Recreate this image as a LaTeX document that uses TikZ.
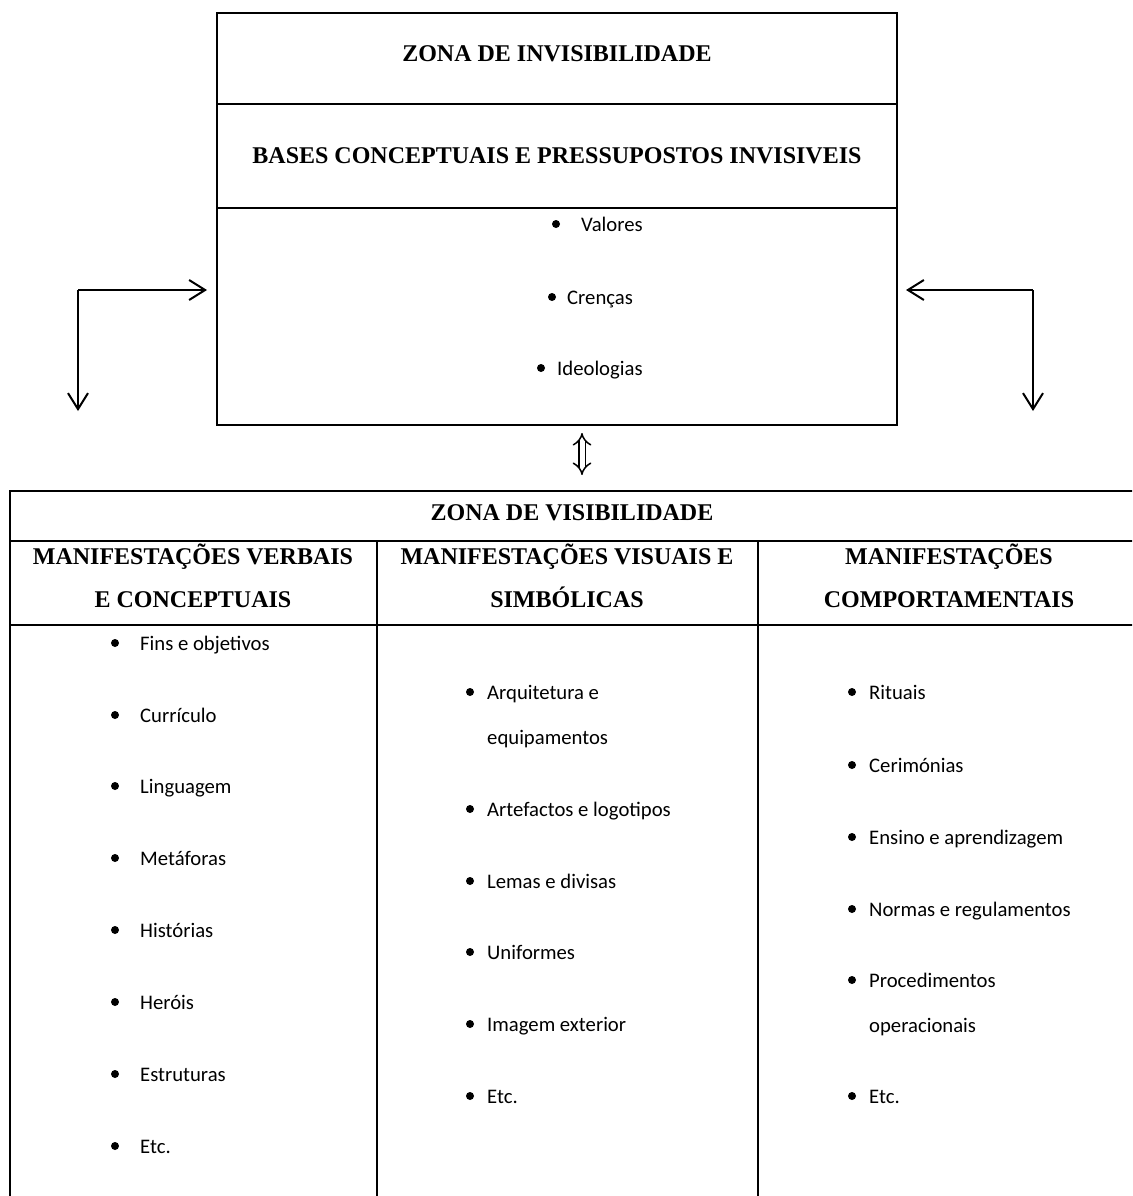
\documentclass[tikz,border=0pt]{standalone}
\usepackage{fontspec}
\setmainfont{Liberation Serif}
\newfontfamily\bodyfont{Carlito}
\usetikzlibrary{arrows.meta}
\begin{document}
\begin{tikzpicture}[x=1pt,y=-1pt,
 hd/.style={font=\fontsize{24}{28}\selectfont\bfseries, inner sep=0pt, anchor=base},
 itm/.style={font=\bodyfont\fontsize{20.7}{24}\selectfont, inner sep=0pt, anchor=base west, yshift=-7pt},
 bul/.style={circle, fill=black, draw=none, inner sep=0pt, minimum size=8pt},
 frame/.style={draw, line width=2pt, inner sep=0pt},
 ln/.style={line width=2pt},
 arr/.style={line width=2pt, -{Straight Barb[length=16pt,width=20pt]}},
 dbl/.style={line width=1.5pt, double distance=5pt, {Implies}-{Implies}}]
\useasboundingbox (0,0) rectangle (1132,1196);
\clip (0,0) rectangle (1132,1196);
% ---- top box ----
\node[frame, minimum width=680pt, minimum height=412pt] (inv) at (557,219) {};
\coordinate (d1) at (217,104); \coordinate (d2) at (217,208);
\draw[ln] (d1) -- (d1 -| inv.east);
\draw[ln] (d2) -- (d2 -| inv.east);
\node[hd] (t1) at (557,62) {ZONA DE INVISIBILIDADE};
\node[hd] (t2) at (557,164) {BASES CONCEPTUAIS E PRESSUPOSTOS INVISIVEIS};
\node[bul] (b1) at (556,224) {}; \node[itm] (v1) at (581,224) {Valores};
\node[bul] (b2) at (552,297) {}; \node[itm] (v2) at (567,297) {Crenças};
\node[bul] (b3) at (541,368) {}; \node[itm] (v3) at (557,368) {Ideologias};
% ---- side arrows ----
\coordinate (la) at (78,290);
\coordinate (lb) at (78,411);
\coordinate (ra) at (1033,290);
\coordinate (rb) at (1033,411);
\draw[arr] (la) -- ([xshift=-9pt]inv.west |- la);
\draw[arr] (la) -- (lb);
\draw[arr] (ra) -- ([xshift=8pt]inv.east |- ra);
\draw[arr] (ra) -- (rb);
% ---- double arrow ----
\coordinate (da) at (582,433);
\coordinate (db) at (582,475);
\draw[dbl] (da) -- (db);
% ---- bottom table ----
\node[frame, minimum width=1131pt, minimum height=720pt, anchor=north west] (vis) at (9,490) {};
\coordinate (h1) at (9,541); \coordinate (h2) at (9,625);
\coordinate (c1) at (377,541); \coordinate (c2) at (758,541);
\draw[ln] (h1) -- (h1 -| vis.east);
\draw[ln] (h2) -- (h2 -| vis.east);
\draw[ln] (c1) -- (c1 |- vis.south);
\draw[ln] (c2) -- (c2 |- vis.south);
\node[hd] (z) at (572,520) {ZONA DE VISIBILIDADE};
\node[hd] (m1a) at (193,564) {MANIFESTAÇÕES VERBAIS};
\node[hd] (m1b) at (193,607) {E CONCEPTUAIS};
\node[hd] (m2a) at (567,564) {MANIFESTAÇÕES VISUAIS E};
\node[hd] (m2b) at (567,607) {SIMBÓLICAS};
\node[hd] (m3a) at (949,564) {MANIFESTAÇÕES};
\node[hd] (m3b) at (949,607) {COMPORTAMENTAIS};
% column 1
\node[bul] (p1) at (115,643) {}; \node[itm] (q1) at (140,643) {Fins e objetivos};
\node[bul] (p2) at (115,715) {}; \node[itm] (q2) at (140,715) {Currículo};
\node[bul] (p3) at (115,786) {}; \node[itm] (q3) at (140,786) {Linguagem};
\node[bul] (p4) at (115,858) {}; \node[itm] (q4) at (140,858) {Metáforas};
\node[bul] (p5) at (115,930) {}; \node[itm] (q5) at (140,930) {Histórias};
\node[bul] (p6) at (115,1002) {}; \node[itm] (q6) at (140,1002) {Heróis};
\node[bul] (p7) at (115,1074) {}; \node[itm] (q7) at (140,1074) {Estruturas};
\node[bul] (p8) at (115,1146) {}; \node[itm] (q8) at (140,1146) {Etc.};
% column 2
\node[bul] (r1) at (470,692) {}; \node[itm] (s1) at (487,692) {Arquitetura e};
\node[itm] (s1b) at (487,737) {equipamentos};
\node[bul] (r2) at (470,809) {}; \node[itm] (s2) at (487,809) {Artefactos e logotipos};
\node[bul] (r3) at (470,881) {}; \node[itm] (s3) at (487,881) {Lemas e divisas};
\node[bul] (r4) at (470,952) {}; \node[itm] (s4) at (487,952) {Uniformes};
\node[bul] (r5) at (470,1024) {}; \node[itm] (s5) at (487,1024) {Imagem exterior};
\node[bul] (r6) at (470,1096) {}; \node[itm] (s6) at (487,1096) {Etc.};
% column 3
\node[bul] (u1) at (852,692) {}; \node[itm] (w1) at (869,692) {Rituais};
\node[bul] (u2) at (852,765) {}; \node[itm] (w2) at (869,765) {Cerimónias};
\node[bul] (u3) at (852,837) {}; \node[itm] (w3) at (869,837) {Ensino e aprendizagem};
\node[bul] (u4) at (852,909) {}; \node[itm] (w4) at (869,909) {Normas e regulamentos};
\node[bul] (u5) at (852,980) {}; \node[itm] (w5) at (869,980) {Procedimentos};
\node[itm] (w5b) at (869,1025) {operacionais};
\node[bul] (u6) at (852,1096) {}; \node[itm] (w6) at (869,1096) {Etc.};
\end{tikzpicture}
\end{document}
